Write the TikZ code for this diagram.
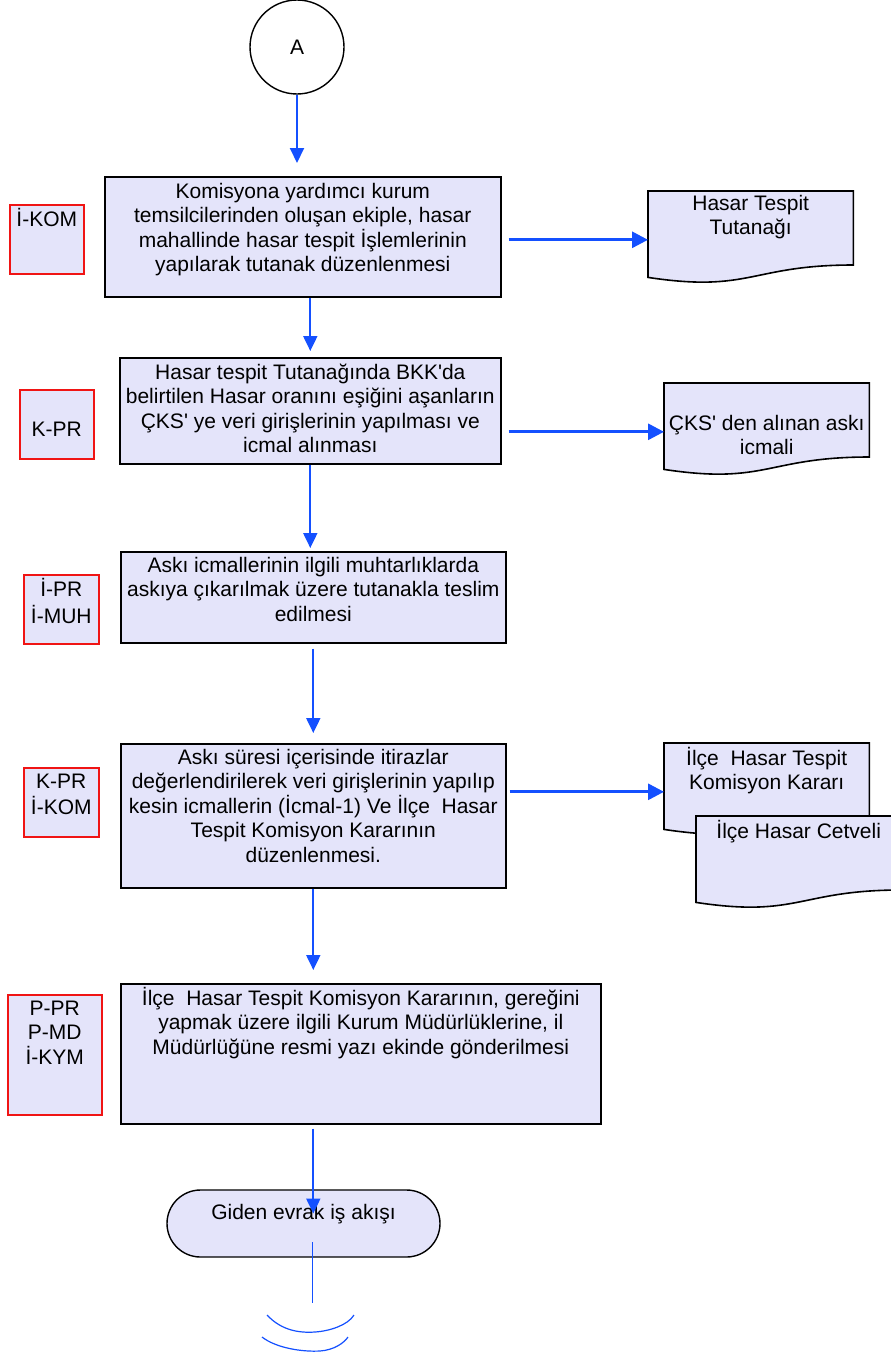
\documentclass[tikz,border=0pt]{standalone}
\usepackage{fontspec}
\setmainfont{Liberation Sans}
\usepackage{tikz}
\usetikzlibrary{calc,shapes.misc,arrows.meta,positioning}
\definecolor{mylavender}{RGB}{228,228,250}
\definecolor{myblue}{RGB}{20,80,255}
\definecolor{myred}{RGB}{240,20,20}

\begin{document}
\begin{tikzpicture}[
  x=1pt, y=-1pt,
  every node/.style={font=\fontsize{21}{24.5}\selectfont},
  mystart/.style={
    circle,
    draw,
    line width=1.4pt,
    fill=white,
    minimum size=94pt,
    inner sep=0pt
    },
  myproc/.style={
    draw,
    rectangle,
    line width=1.6pt,
    fill=mylavender,
    anchor=north west,
    inner sep=0pt
    },
  myrole/.style={
    draw=myred,
    rectangle,
    line width=1.6pt,
    fill=mylavender,
    anchor=north west,
    inner sep=0pt
    },
  mydoc/.style={
    rectangle,
    minimum width=205pt,
    minimum height=86pt,
    anchor=north west,
    inner sep=0pt
    },
  mydocline/.style={draw, line width=1.6pt, fill=mylavender},
  myterm/.style={
    rounded rectangle,
    draw,
    line width=1.4pt,
    fill=mylavender,
    minimum width=273pt,
    minimum height=67pt,
    inner sep=0pt
    },
  mytext/.style={align=center, inner sep=0pt},
  myarrow/.style={draw=myblue, line width=2pt, -{Triangle[length=15pt,width=14pt]}},
  myharrow/.style={draw=myblue, line width=3pt, -{Triangle[length=16pt,width=16pt]}},
  mytail/.style={draw=myblue, line width=1.2pt}
]
\useasboundingbox (0,0) rectangle (891,1357);

% start
\node[mystart] (start) at (297,47) {A};

% process boxes
\node[myproc, minimum width=396pt, minimum height=120pt] (box1) at (104,176) {};
\node[myproc, minimum width=381pt, minimum height=106pt] (box2) at (119,357) {};
\node[myproc, minimum width=385pt, minimum height=91pt] (box3) at (120,551) {};
\node[myproc, minimum width=385pt, minimum height=144pt] (box4) at (120,743) {};
\node[myproc, minimum width=480pt, minimum height=140pt] (box5) at (120,983) {};

\node[mytext, below=5pt of box1.north] (box1txt)
  {\strut Komisyona yardımcı kurum\\temsilcilerinden oluşan ekiple, hasar\\mahallinde hasar tespit İşlemlerinin\\yapılarak tutanak düzenlenmesi};
\node[mytext, below=5pt of box2.north] (box2txt)
  {\strut Hasar tespit Tutanağında BKK\textquotesingle da\\belirtilen Hasar oranını eşiğini aşanların\\ÇKS\textquotesingle{} ye veri girişlerinin yapılması ve\\icmal alınması};
\node[mytext, below=4pt of box3.north] (box3txt)
  {\strut Askı icmallerinin ilgili muhtarlıklarda\\askıya çıkarılmak üzere tutanakla teslim\\edilmesi};
\node[mytext, below=4pt of box4.north] (box4txt)
  {\strut Askı süresi içerisinde itirazlar\\değerlendirilerek veri girişlerinin yapılıp\\kesin icmallerin (İcmal-1) Ve İlçe\ \ Hasar\\Tespit Komisyon Kararının\\düzenlenmesi.};
\node[mytext, below=4pt of box5.north] (box5txt)
  {\strut İlçe\ \ Hasar Tespit Komisyon Kararının, gereğini\\yapmak üzere ilgili Kurum Müdürlüklerine, il\\Müdürlüğüne resmi yazı ekinde gönderilmesi};

% role boxes
\node[myrole, minimum width=74pt, minimum height=69pt] (role1) at (9,204) {};
\node[myrole, minimum width=74pt, minimum height=69pt] (role2) at (19,389) {};
\node[myrole, minimum width=75pt, minimum height=69pt] (role3) at (23,574) {};
\node[myrole, minimum width=75pt, minimum height=69pt] (role4) at (23,767) {};
\node[myrole, minimum width=94pt, minimum height=120pt] (role5) at (7,994) {};

\node[mytext, below=4pt of role1.north] (role1txt) {\strut İ-KOM};
\node[mytext, below=30pt of role2.north] (role2txt) {\strut K-PR};
\node[mytext, below=4pt of role3.north] (role3txt) {\strut İ-PR\\İ-MUH};
\node[mytext, below=4pt of role4.north] (role4txt) {\strut K-PR\\İ-KOM};
\node[mytext, below=4pt of role5.north] (role5txt) {\strut P-PR\\P-MD\\İ-KYM};

% documents
\node[mydoc] (doc1) at (648,191) {};
\node[mydoc] (doc2) at (664,383) {};
\node[mydoc] (doc3) at (664,743) {};
\node[mydoc] (doc4) at (696,816) {};
\foreach \d in {doc1,doc2,doc3,doc4}
  \draw[mydocline] (\d.north west) -- (\d.north east) -- ($(\d.north east)+(0,74)$)
    .. controls ($(\d.north)+(0,74)$) and ($(\d.north)+(0,102)$) .. (\d.south west) -- cycle;

\node[mytext, below=2pt of doc1.north] (doc1txt) {\strut Hasar Tespit\\Tutanağı};
\node[mytext, below=30pt of doc2.north] (doc2txt) {\strut ÇKS\textquotesingle{} den alınan askı\\icmali};
\node[mytext, below=4pt of doc3.north] (doc3txt) {\strut İlçe\ \ Hasar Tespit\\Komisyon Kararı};
\node[mytext, below=4pt of doc4.north] (doc4txt) {\strut İlçe Hasar Cetveli};

% end
\node[myterm] (term) at (303.5,1223.5) {};
\node[mytext, below=13pt of term.north] (termtxt) {\strut Giden evrak iş akışı};
\coordinate (tail) at (312.5,1303);

% connectors
\draw[myarrow, shorten >=13pt] (start.south) -- (start.south |- box1.north);
\draw[myharrow, shorten <=7pt] ([yshift=-3pt]box1.east) -- ([yshift=-3pt]box1.east -| doc1.west);
\draw[myarrow, shorten >=6pt] (box2.north |- box1.south) -- (box2.north);
\draw[myharrow, shorten <=7pt] ([yshift=-21pt]box2.east) -- ([yshift=-21pt]box2.east -| doc2.west);
\draw[myarrow, shorten >=3pt] (box2.south) -- (box2.south |- box3.north);
\draw[myarrow, shorten <=5pt, shorten >=10pt] (box3.south) -- (box3.south |- box4.north);
\draw[myharrow, shorten <=3pt] ([yshift=24pt]box4.east) -- ([yshift=24pt]box4.east -| doc3.west);
\draw[myarrow, shorten >=13pt] (box4.south) -- (box4.south |- box5.north);
\draw[myarrow, shorten <=4pt, shorten >=10pt] (box4.south |- box5.south) -- (box4.south |- term.center);
\draw[mytail] ([yshift=-18.5pt]tail |- term.center) -- (tail);

% cut marks
\draw[mytail] (267,1315) .. controls (282,1331) and (300,1333) .. (315,1332)
  .. controls (330,1331) and (348,1325) .. (354,1315);
\draw[mytail] (262,1337) .. controls (276,1348) and (302,1352) .. (320,1351)
  .. controls (334,1350) and (344,1343) .. (348,1337);

\end{tikzpicture}
\end{document}
